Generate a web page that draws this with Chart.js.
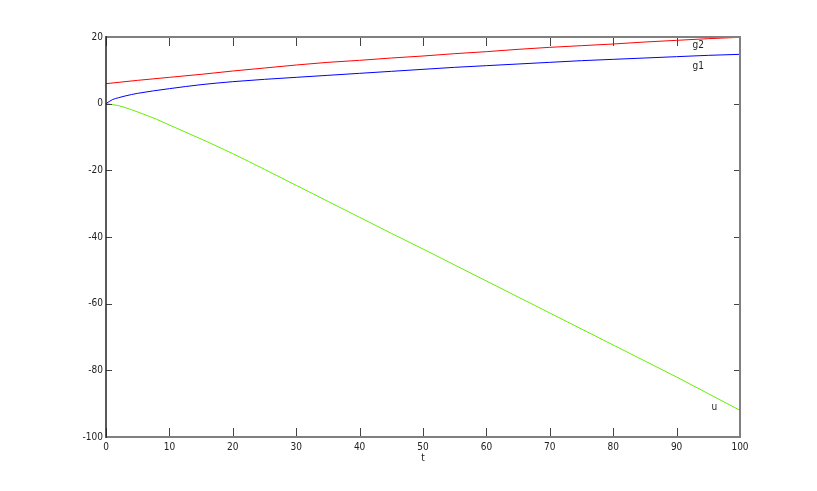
<!DOCTYPE html>
<html>
<head>
<meta charset="utf-8">
<script src="https://cdn.jsdelivr.net/npm/chart.js@4"></script>
<style>
  html, body { margin: 0; padding: 0; background: #fff; }
  #wrap { width: 817px; height: 491px; }
</style>
</head>
<body>
<div id="wrap"><canvas id="plot" width="817" height="491"></canvas></div>
<script>
// values
const tG = [0, 1, 2, 3, 5, 10, 15, 20, 25, 30, 35, 40, 45, 50, 55, 60, 65, 70, 75, 80, 85, 90, 95, 100];
const g1 = [0, 1.2, 1.8, 2.3, 3.1, 4.5, 5.7, 6.6, 7.3, 7.9, 8.5, 9.1, 9.7, 10.3, 10.9, 11.4, 11.9, 12.4, 12.9, 13.3, 13.7, 14.1, 14.5, 14.8];
const tR = [0, 5, 10, 15, 20, 25, 30, 35, 40, 45, 50, 55, 60, 65, 70, 75, 80, 85, 90, 95, 100];
const g2 = [6.0, 7.0, 7.9, 8.8, 9.8, 10.7, 11.6, 12.4, 13.0, 13.7, 14.3, 15.0, 15.6, 16.3, 16.9, 17.4, 17.9, 18.5, 19.0, 19.5, 19.9];
const tU = [0, 2, 4, 6, 8, 10, 15, 20, 25, 30, 35, 40, 45, 50, 55, 60, 65, 70, 75, 80, 85, 90, 95, 100];
const u = [0, -0.6, -1.8, -3.2, -4.7, -6.4, -10.6, -15.0, -19.7, -24.5, -29.3, -34.1, -38.9, -43.6, -48.4, -53.2, -58.0, -62.8, -67.6, -72.4, -77.2, -82.0, -87.0, -92.0];

const xTicks = [0, 10, 20, 30, 40, 50, 60, 70, 80, 90, 100];
const yTicks = [-100, -80, -60, -40, -20, 0, 20];
const xTitle = 't';

// curve labels: [text, t, value]
const curveLabels = [['g2', 92.5, 17.4], ['g1', 92.5, 11.1], ['u', 95.5, -91.0]];

const FONT = "'DejaVu Sans Condensed', 'Liberation Sans Narrow', Arial, sans-serif";

function pts(xs, ys) {
  return xs.map((x, i) => ({ x: x, y: ys[i] }));
}

// box with inward ticks, plus text next to the curves
const boxPlugin = {
  id: 'box',
  afterDatasetsDraw(chart) {
    const ctx = chart.ctx;
    const a = chart.chartArea;
    const xs = chart.scales.x;
    const ys = chart.scales.y;
    ctx.save();

    ctx.strokeStyle = '#444';
    ctx.lineWidth = 1;
    ctx.beginPath();
    xTicks.forEach(v => {
      const px = Math.round(xs.getPixelForValue(v)) + 0.5;
      ctx.moveTo(px, a.bottom); ctx.lineTo(px, a.bottom - 9);
      ctx.moveTo(px, a.top); ctx.lineTo(px, a.top + 9);
    });
    yTicks.forEach(v => {
      const py = Math.round(ys.getPixelForValue(v)) + 0.5;
      ctx.moveTo(a.left, py); ctx.lineTo(a.left + 6, py);
      ctx.moveTo(a.right, py); ctx.lineTo(a.right - 6, py);
    });
    ctx.stroke();

    ctx.strokeStyle = '#808080';
    ctx.lineWidth = 2;
    ctx.beginPath();
    ctx.moveTo(a.left, a.top); ctx.lineTo(a.right, a.top);
    ctx.lineTo(a.right, a.bottom); ctx.lineTo(a.left, a.bottom);
    ctx.stroke();

    ctx.strokeStyle = '#222';
    ctx.lineWidth = 1.5;
    ctx.beginPath();
    ctx.moveTo(a.left, a.top - 1); ctx.lineTo(a.left, a.bottom + 1);
    ctx.stroke();

    ctx.fillStyle = '#222';
    ctx.font = '10px ' + FONT;
    ctx.textAlign = 'left';
    ctx.textBaseline = 'middle';
    curveLabels.forEach(([txt, t, v]) => {
      ctx.fillText(txt, xs.getPixelForValue(t), ys.getPixelForValue(v));
    });
    ctx.textAlign = 'center';
    ctx.fillText(xTitle, (a.left + a.right) / 2, a.bottom + 21);
    ctx.restore();
  }
};

function line(data, color) {
  return {
    data: data,
    borderColor: color,
    borderWidth: 1,
    pointRadius: 0,
    fill: false,
    cubicInterpolationMode: 'monotone'
  };
}

new Chart(document.getElementById('plot'), {
  type: 'line',
  data: {
    datasets: [
      line(pts(tR, g2), 'rgb(255, 0, 0)'),
      line(pts(tG, g1), 'rgb(0, 0, 255)'),
      line(pts(tU, u), 'rgb(100, 240, 0)')
    ]
  },
  options: {
    responsive: false,
    animation: false,
    layout: { padding: { left: 0, top: 37, right: 77, bottom: 0 } },
    plugins: {
      legend: { display: false },
      tooltip: { enabled: false }
    },
    scales: {
      x: {
        type: 'linear',
        min: 0,
        max: 100,
        afterFit: s => { s.height = 54; },
        afterBuildTicks: s => { s.ticks = xTicks.map(v => ({ value: v })); },
        grid: { display: false, drawTicks: false },
        border: { display: false },
        ticks: { color: '#222', font: { family: FONT, size: 10 }, padding: 4, maxRotation: 0 }
      },
      y: {
        type: 'linear',
        min: -100,
        max: 20,
        afterFit: s => { s.width = 106; },
        afterBuildTicks: s => { s.ticks = yTicks.map(v => ({ value: v })); },
        grid: { display: false, drawTicks: false },
        border: { display: false },
        ticks: { color: '#222', font: { family: FONT, size: 10 }, padding: 3 }
      }
    }
  },
  plugins: [boxPlugin]
});
</script>
</body>
</html>
